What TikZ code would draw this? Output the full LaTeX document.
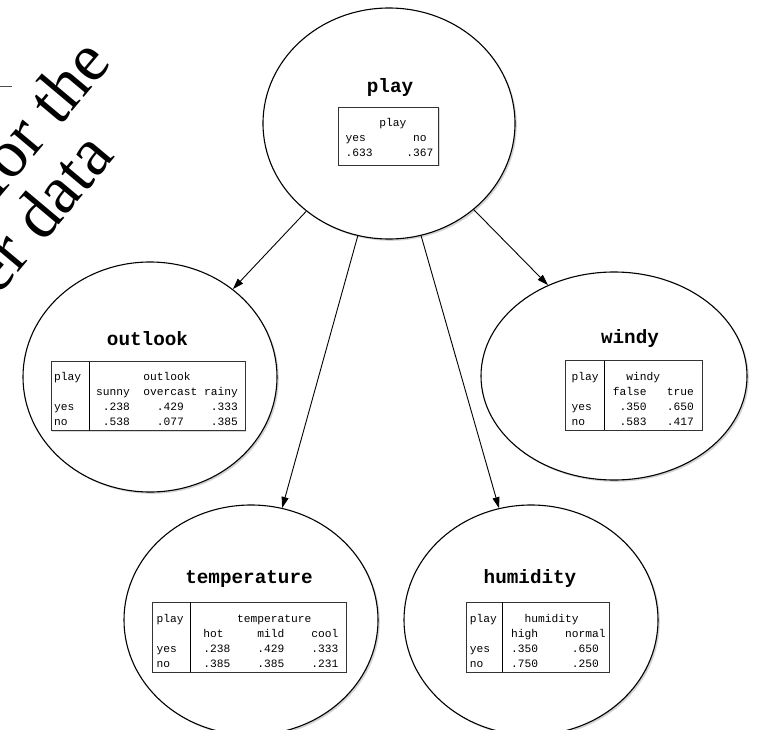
\documentclass[tikz,border=0pt]{standalone}
\usepackage{fontspec}
\setmainfont{Liberation Serif}
\newfontfamily\courfont{Liberation Mono}
\usetikzlibrary{shapes.geometric,arrows.meta,shadows}
\setlength\arrayrulewidth{1pt}
% n blank character cells of the monospaced table font
\newcommand\blk[1]{\hspace*{#1\dimexpr0.6em\relax}}
\newcommand\cptfont{\courfont\fontsize{11.25}{15}\selectfont}
\newcommand\varfont{\courfont\bfseries\fontsize{19.3}{23}\selectfont}
\newcommand\topgap[1]{\rule{0pt}{#1}}
\newcommand\botgap[1]{\rule[-#1]{0pt}{#1}}
\begin{document}
\begin{tikzpicture}[x=1pt,y=-1pt,
  var/.style={ellipse, draw, line width=1.1pt, fill=white, inner sep=0pt,
    drop shadow={shadow xshift=1.8pt, shadow yshift=-1.8pt, opacity=0.35}},
  vartitle/.style={font=\varfont, anchor=base, inner sep=0pt},
  cpt/.style={draw=black!80, line width=1.1pt, fill=white, inner sep=0pt,
    anchor=north west, font=\cptfont,
    drop shadow={shadow xshift=0.9pt, shadow yshift=-0.9pt, opacity=0.3}},
  link/.style={-{Triangle[length=11pt,width=7pt]}, line width=0.9pt},
  caption/.style={font=\fontsize{68}{80}\selectfont, rotate=50,
    anchor=base west, inner sep=0pt}]
\useasboundingbox (0,0) rectangle (765,730);

% variables of the network
\node[var, minimum width=252pt, minimum height=231pt] (play) at (389,123.5) {};
\node[var, minimum width=254pt, minimum height=230pt] (outlook) at (150,377) {};
\node[var, minimum width=266pt, minimum height=208pt] (windy) at (614,376) {};
\node[var, minimum width=254pt, minimum height=230pt] (temperature) at (251,620) {};
\node[var, minimum width=254pt, minimum height=230pt] (humidity) at (531,620) {};

% names
\node[vartitle] (play-t) at (390,92.7) {play};
\node[vartitle] (outlook-t) at (147.5,345) {outlook};
\node[vartitle] (windy-t) at (630,343.3) {windy};
\node[vartitle] (temperature-t) at (249,583.3) {temperature};
\node[vartitle] (humidity-t) at (530,583) {humidity};

% probability tables
\node[cpt] (play-cpt) at (338,107) {\begin{tabular}{@{\hspace{7pt}}l@{\hspace{5.3pt}}}
\topgap{19pt}\blk{5}play\\
yes\blk{7}no\\
.633\blk{5}.367\botgap{9pt}
\end{tabular}};

\node[cpt] (outlook-cpt) at (51,361) {\begin{tabular}{@{\hspace{2.6pt}}l@{\hspace{8.2pt}}|@{\hspace{6.2pt}}l@{\hspace{7.3pt}}}
\topgap{19.3pt}play & \blk{7}outlook\\
 & sunny\blk{2}overcast\blk{1}rainy\\
yes & \blk{1}.238\blk{4}.429\blk{4}.333\\
no & \blk{1}.538\blk{4}.077\blk{4}.385\botgap{5pt}
\end{tabular}};

\node[cpt] (windy-cpt) at (565,360) {\begin{tabular}{@{\hspace{6pt}}l@{\hspace{5.8pt}}|@{\hspace{7.9pt}}l@{\hspace{8.3pt}}}
\topgap{19.5pt}play & \blk{2}windy\\
 & false\blk{3}true\\
yes & \blk{1}.350\blk{3}.650\\
no & \blk{1}.583\blk{3}.417\botgap{5pt}
\end{tabular}};

\node[cpt] (temperature-cpt) at (152.3,601.7) {\begin{tabular}{@{\hspace{3.7pt}}l@{\hspace{7.2pt}}|@{\hspace{12.1pt}}l@{\hspace{7.7pt}}}
\topgap{20pt}play & \blk{5}temperature\\
 & hot\blk{5}mild\blk{4}cool\\
yes & .238\blk{4}.429\blk{4}.333\\
no & .385\blk{4}.385\blk{4}.231\botgap{5pt}
\end{tabular}};

\node[cpt] (humidity-cpt) at (465.7,601.7) {\begin{tabular}{@{\hspace{3.6pt}}l@{\hspace{5.9pt}}|@{\hspace{7.8pt}}l@{\hspace{3.8pt}}}
\topgap{20pt}play & \blk{2}humidity\\
 & high\blk{4}normal\\
yes & .350\blk{5}.650\\
no & .750\blk{5}.250\botgap{5pt}
\end{tabular}};

% dependencies
\draw[link] (play) -- (outlook);
\draw[link] (play) -- (windy.126);
\draw[link] (play) -- (temperature);
\draw[link] (play) -- (humidity);

% caption fragment and rule at the upper left
\draw[line width=0.8pt, black!70] (0,86.7) -- (12,86.7);
\begin{scope}
  \clip (0,0) rectangle (765,730);
  \node[caption] (cap-a) at (-3,201) {for the};
  \node[caption] (cap-b) at (-2,297) {er data};
\end{scope}
\end{tikzpicture}
\end{document}
